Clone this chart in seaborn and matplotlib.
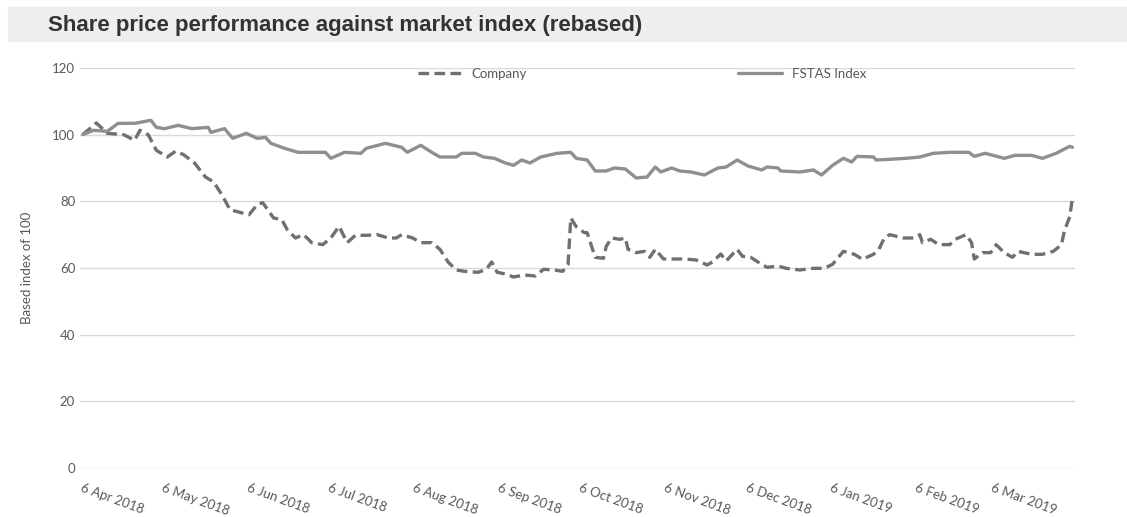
"""Share price performance vs market index (rebased to 100)."""
import matplotlib

matplotlib.use("Agg")
import matplotlib.pyplot as plt
import pandas as pd
import seaborn as sns

START = "2018-04-06"

# days since 6 Apr 2018 and rebased values
company_days = [
    0, 5, 9, 15, 19, 21, 24, 27, 31, 34, 37, 41, 45, 48, 51, 54, 58, 61, 64, 66,
    70, 73, 75, 78, 81, 84, 88, 91, 94, 97, 100, 104, 108, 112, 115, 117, 121,
    124, 128, 131, 134, 137, 140, 145, 148, 150, 152, 155, 158, 162, 166, 169,
    173, 176, 178, 179, 181, 184, 185, 187, 188, 191, 192, 194, 197, 199, 200,
    203, 206, 208, 210, 213, 221, 225, 229, 231, 234, 236, 240, 242, 245, 249,
    251, 255, 258, 263, 268, 272, 275, 279, 283, 286, 290, 292, 294, 296, 301,
    305, 307, 308, 311, 314, 318, 320, 324, 326, 327, 330, 333, 335, 338, 341,
    343, 348, 352, 356, 359, 360, 362, 363,
]
company_vals = [
    100, 103.5, 100.4, 100, 98.3, 101.3, 100, 95.3, 93.3, 95, 94, 91.5, 87.3,
    85.8, 82, 77.5, 76.6, 76, 79, 79.6, 75, 74.5, 71.5, 69, 70, 67.6, 67, 69,
    72.5, 67.6, 69.8, 69.8, 70, 69, 69, 70, 69, 67.6, 67.6, 65.6, 61.8, 59.4,
    59, 58.7, 59.6, 61.8, 58.7, 58.2, 57.3, 57.9, 57.6, 59.6, 59.4, 59, 61, 75,
    72.4, 70.6, 70.6, 65.6, 63.2, 62.9, 66.5, 69, 68.6, 69, 65.6, 64.6, 65,
    63.2, 65.6, 62.7, 62.7, 62.4, 60.9, 61.8, 64.2, 62.1, 65.6, 63.5, 63.2,
    61.1, 60.2, 60.6, 59.9, 59.4, 59.9, 59.9, 61.1, 65, 64.1, 62.6, 64.1, 65.6,
    69, 70, 69, 69, 70, 67.6, 68.6, 67, 67, 68.6, 70, 67.6, 62.7, 64.6, 64.6,
    67, 64.6, 63.2, 65, 64.1, 64.1, 65, 67, 71, 75.4, 81,
]

index_days = [
    0, 4, 9, 13, 19, 25, 27, 30, 35, 40, 46, 47, 52, 55, 60, 64, 67, 69, 74, 79,
    84, 89, 91, 96, 102, 104, 111, 117, 119, 124, 128, 131, 137, 139, 144, 147,
    151, 155, 158, 161, 164, 168, 174, 179, 181, 185, 188, 192, 195, 199, 203,
    207, 210, 212, 216, 219, 223, 228, 233, 236, 240, 244, 249, 251, 255, 256,
    263, 268, 271, 275, 279, 282, 284, 290, 291, 296, 302, 307, 312, 318, 325,
    327, 331, 338, 342, 348, 352, 357, 362, 363,
]
index_vals = [
    100, 101.3, 101, 103.4, 103.4, 104.3, 102.2, 101.8, 102.8, 101.8, 102.2,
    100.7, 101.8, 98.9, 100.4, 98.9, 99.2, 97.4, 95.9, 94.7, 94.7, 94.7, 92.9,
    94.7, 94.4, 95.9, 97.4, 96.2, 94.7, 96.8, 94.7, 93.3, 93.3, 94.4, 94.4,
    93.3, 92.9, 91.5, 90.8, 92.4, 91.5, 93.3, 94.4, 94.7, 92.9, 92.4, 89.1,
    89.1, 90, 89.7, 87, 87.3, 90.3, 88.8, 90, 89.1, 88.8, 87.9, 90, 90.3, 92.4,
    90.6, 89.4, 90.3, 90, 89.1, 88.8, 89.4, 87.9, 90.8, 92.9, 91.8, 93.5, 93.3,
    92.4, 92.6, 92.9, 93.3, 94.4, 94.7, 94.7, 93.5, 94.4, 92.9, 93.8, 93.8,
    92.9, 94.4, 96.5, 96.2,
]

series_names = ["Company", "FSTAS Index"]
tick_dates = pd.date_range(START, periods=12, freq=pd.DateOffset(months=1))
y_ticks = [0, 20, 40, 60, 80, 100, 120]

start = pd.Timestamp(START)
df = pd.concat([
    pd.DataFrame({"date": start + pd.to_timedelta(company_days, unit="D"),
                  "value": company_vals, "series": series_names[0]}),
    pd.DataFrame({"date": start + pd.to_timedelta(index_days, unit="D"),
                  "value": index_vals, "series": series_names[1]}),
])

sns.set_theme(style="white")
plt.rcParams["font.family"] = ["Lato", "DejaVu Sans"]
grey_txt = "#595959"

fig = plt.figure(figsize=(11.27, 5.17), dpi=100)
ax = fig.add_axes([0.071, 0.0948, 0.883, 0.7737])

sns.lineplot(
    data=df, x="date", y="value", hue="series", style="series",
    hue_order=series_names, style_order=series_names,
    palette={"Company": "#707070", "FSTAS Index": "#8f8f8f"},
    dashes={"Company": (3.2, 1.6), "FSTAS Index": ""},
    estimator=None, linewidth=2.4, ax=ax,
)

ax.set_ylim(0, 120)
ax.set_yticks(y_ticks)
ax.set_xlim(start - pd.Timedelta(days=1), start + pd.Timedelta(days=364))
ax.set_xticks(tick_dates)
ax.set_xticklabels([d.strftime("%-d %b %Y") for d in tick_dates],
                   rotation=-20, ha="left", va="top", rotation_mode="anchor")
ax.tick_params(axis="both", length=0, labelsize=9.5, colors=grey_txt)
ax.tick_params(axis="x", pad=10)
ax.grid(axis="y", color="#d9d9d9", linewidth=1)
ax.set_axisbelow(True)
for s in ax.spines.values():
    s.set_visible(False)

ax.set_xlabel("")
ax.set_ylabel("Based index of 100", fontsize=9.5, color=grey_txt, labelpad=14)

sns.move_legend(
    ax, "upper center", bbox_to_anchor=(0.565, 1.03), ncol=2, frameon=False,
    title=None, fontsize=9.5, handlelength=3.3, columnspacing=16,
)
for t in ax.get_legend().get_texts():
    t.set_color(grey_txt)

# grey title band
fig.patches.append(plt.Rectangle((0.007, 1 - 41 / 517), 0.993, 34 / 517,
                                 transform=fig.transFigure, color="#eeeeee",
                                 zorder=0))
fig.text(0.043, 1 - 26 / 517, "Share price performance against market index (rebased)",
         fontsize=16, fontweight="bold", color="#333333",
         family="Liberation Sans", va="center", ha="left")

fig.savefig("out.png", dpi=100)
